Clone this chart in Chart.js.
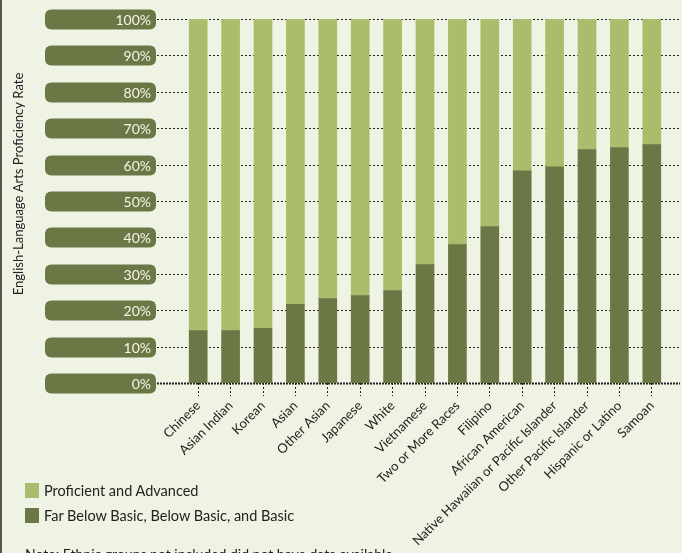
<!DOCTYPE html>
<html>
<head>
<meta charset="utf-8">
<script src="https://cdn.jsdelivr.net/npm/chart.js@4"></script>
<style>
  body { margin: 0; background: #eff3e4; }
  #wrap { position: relative; width: 682px; height: 553px; overflow: hidden; background: #eff3e4; }
  #legend { position: absolute; left: 25px; top: 483px; font-family: Lato, sans-serif; font-size: 14.5px; color: #222; }
  .item { display: flex; align-items: center; height: 15px; margin-bottom: 10px; }
  .box { width: 14px; height: 15px; margin-right: 5px; }
  #note { position: absolute; left: 25px; top: 545px; font-family: Lato, sans-serif; font-size: 14px; color: #222; white-space: nowrap; }
</style>
</head>
<body>
<div id="wrap">
  <canvas id="myChart"></canvas>
  <div id="legend"></div>
  <div id="note">Note: Ethnic groups not included did not have data available.</div>
</div>
<script>
const groups = [
  "Chinese", "Asian Indian", "Korean", "Asian", "Other Asian", "Japanese", "White",
  "Vietnamese", "Two or More Races", "Filipino", "African American",
  "Native Hawaiian or Pacific Islander", "Other Pacific Islander", "Hispanic or Latino", "Samoan"
];
const belowBasic = [14.4, 14.4, 15.0, 21.6, 23.2, 24.0, 25.4, 32.5, 38.0, 43.0, 58.3, 59.4, 64.1, 64.7, 65.5];
const proficient = [85.6, 85.6, 85.0, 78.4, 76.8, 76.0, 74.6, 67.5, 62.0, 57.0, 41.7, 40.6, 35.9, 35.3, 34.5];
const yTicks = [0, 10, 20, 30, 40, 50, 60, 70, 80, 90, 100];
const seriesNames = ["Proficient and Advanced", "Far Below Basic, Below Basic, and Basic"];

const lightGreen = "#a9bd6c";
const darkGreen = "#6b7846";
const fontName = "Lato, sans-serif";

// gridlines, label pills, axis title, left border
const decor = {
  id: "decor",
  beforeDatasetsDraw(chart) {
    const ctx = chart.ctx;
    const y = chart.scales.y;
    ctx.save();
    yTicks.forEach((t) => {
      const py = Math.round(y.getPixelForValue(t)) + 0.5;
      ctx.beginPath();
      if (t === 0) {
        ctx.lineWidth = 2;
        ctx.setLineDash([2, 1]);
      } else {
        ctx.lineWidth = 1;
        ctx.setLineDash([2, 2]);
      }
      ctx.strokeStyle = "#222";
      ctx.moveTo(157, py);
      ctx.lineTo(680, py);
      ctx.stroke();

      // pill
      ctx.setLineDash([]);
      ctx.fillStyle = darkGreen;
      ctx.beginPath();
      ctx.roundRect(45, py - 10, 111, 20, 6);
      ctx.fill();
      ctx.fillStyle = "#f4f4e8";
      ctx.font = "14px " + fontName;
      ctx.textAlign = "right";
      ctx.textBaseline = "middle";
      ctx.fillText(t + "%", 151, py + 1);
    });

    ctx.translate(19, 184);
    ctx.rotate(-Math.PI / 2);
    ctx.fillStyle = "#222";
    ctx.font = "13px " + fontName;
    ctx.textAlign = "center";
    ctx.textBaseline = "middle";
    ctx.fillText("English-Language Arts Proficiency Rate", 0, 0);
    ctx.restore();
  },
  afterDraw(chart) {
    const ctx = chart.ctx;
    ctx.save();
    ctx.fillStyle = "#555";
    ctx.fillRect(0, 0, 2, chart.height);
    ctx.restore();
  },
};

const config = {
  type: "bar",
  data: {
    labels: groups,
    datasets: [
      { label: seriesNames[1], data: belowBasic, backgroundColor: darkGreen, barThickness: 18 },
      { label: seriesNames[0], data: proficient, backgroundColor: lightGreen, barThickness: 18 },
    ],
  },
  options: {
    responsive: true,
    maintainAspectRatio: false,
    animation: false,
    layout: { padding: { left: 182, right: 14, top: 19, bottom: 0 } },
    plugins: { legend: { display: false }, tooltip: { enabled: false } },
    scales: {
      x: {
        stacked: true,
        border: { display: false },
        grid: {
          offset: false,
          drawOnChartArea: false,
          drawTicks: true,
          tickLength: 13,
          tickColor: "#222",
          tickBorderDash: [2, 2],
          tickWidth: 1,
        },
        ticks: {
          autoSkip: false,
          maxRotation: 45,
          minRotation: 45,
          padding: 2,
          color: "#222",
          font: { family: fontName, size: 13 },
        },
        afterFit: (s) => { s.height = 170; },
      },
      y: {
        stacked: true,
        display: false,
        min: 0,
        max: 100,
      },
    },
  },
  plugins: [decor],
};

const legend = document.getElementById("legend");
[[seriesNames[0], lightGreen], [seriesNames[1], darkGreen]].forEach(([name, color]) => {
  const item = document.createElement("div");
  item.className = "item";
  item.innerHTML = `<span class="box" style="background:${color}"></span><span>${name}</span>`;
  legend.appendChild(item);
});

new Chart(document.getElementById("myChart"), config);
</script>
</body>
</html>
